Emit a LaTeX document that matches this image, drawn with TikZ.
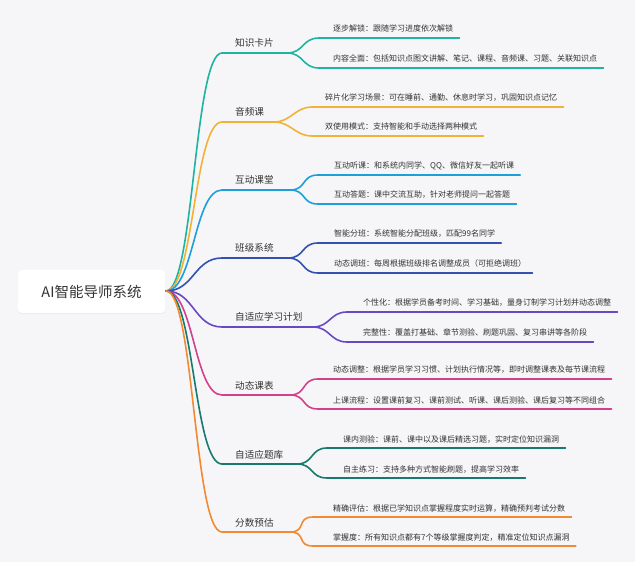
\documentclass[tikz,border=0pt]{standalone}
\usepackage{fontspec}
\setmainfont{Noto Sans CJK SC}
\usetikzlibrary{positioning,shadows}
\definecolor{bggray}{HTML}{F6F6F8}
\definecolor{txtgray}{HTML}{333333}
\definecolor{cteal}{HTML}{1DB4A0}
\definecolor{cyellow}{HTML}{F1B334}
\definecolor{cblue}{HTML}{1E9FDB}
\definecolor{cnavy}{HTML}{3451B2}
\definecolor{cpurple}{HTML}{6A48C3}
\definecolor{cmagenta}{HTML}{D1418C}
\definecolor{cdteal}{HTML}{18796F}
\definecolor{corange}{HTML}{F28A33}

\begin{document}
\begin{tikzpicture}[x=1pt,y=-1pt]
\tikzstyle{rootbox}=[rounded corners=4pt, fill=white, minimum width=147pt,
	minimum height=43pt, inner sep=0pt, text=txtgray,
	font=\fontsize{14.5}{16}\selectfont,
	drop shadow={shadow xshift=0pt, shadow yshift=-1pt, opacity=0.08},
]
\tikzstyle{topic}=[anchor=base west, inner sep=0pt, text=txtgray,
	font=\fontsize{9.6}{11}\selectfont]
\tikzstyle{leaf}=[anchor=base west, inner sep=0pt, text=txtgray,
	font=\fontsize{8}{10}\selectfont]
\tikzstyle{limb}=[to path={.. controls +(28,0) and +(-28,0) .. (\tikztotarget)}]
\tikzstyle{twig}=[to path={.. controls +(17,0) and +(-17,0) .. (\tikztotarget)}]
\tikzstyle{wire}=[line width=1.6pt, line cap=round]

\fill[bggray] (0,0) rectangle (635,562);
\useasboundingbox (0,0) rectangle (640,569);

\node[rootbox] (root) at (91.5,291.5) {AI智能导师系统};
\coordinate (o) at (166,291);

% 知识卡片
\node[topic] (t1) at (235,47) {知识卡片};
\node[leaf] (a1) at (333,32) {逐步解锁：跟随学习进度依次解锁};
\node[leaf] (b1) at (333,62) {内容全面：包括知识点图文讲解、笔记、课程、音频课、习题、关联知识点};
\coordinate (t1s) at (222,53);
\coordinate (t1e) at (287,53);
\path[wire, draw=cteal] (o) edge[limb] (t1s) (t1s) edge (t1e)
	(t1e) edge[twig] ([shift={(-14pt,-6pt)}]a1.base west)
	(t1e) edge[twig] ([shift={(-14pt,-6pt)}]b1.base west)
	([shift={(-14pt,-6pt)}]a1.base west) edge ([shift={(6pt,-6pt)}]a1.base east)
	([shift={(-14pt,-6pt)}]b1.base west) edge ([shift={(6pt,-6pt)}]b1.base east);

% 音频课
\node[topic] (t2) at (235,116) {音频课};
\node[leaf] (a2) at (325,101) {碎片化学习场景：可在睡前、通勤、休息时学习，巩固知识点记忆};
\node[leaf] (b2) at (325,130) {双使用模式：支持智能和手动选择两种模式};
\coordinate (t2s) at (222,122);
\coordinate (t2e) at (274,122);
\path[wire, draw=cyellow] (o) edge[limb] (t2s) (t2s) edge (t2e)
	(t2e) edge[twig] ([shift={(-13pt,-6pt)}]a2.base west)
	(t2e) edge[twig] ([shift={(-13pt,-6pt)}]b2.base west)
	([shift={(-13pt,-6pt)}]a2.base west) edge ([shift={(6pt,-6pt)}]a2.base east)
	([shift={(-13pt,-6pt)}]b2.base west) edge ([shift={(6pt,-6pt)}]b2.base east);

% 互动课堂
\node[topic] (t3) at (235,184) {互动课堂};
\node[leaf] (a3) at (334,169) {互动听课：和系统内同学、QQ、微信好友一起听课};
\node[leaf] (b3) at (334,198) {互动答题：课中交流互助，针对老师提问一起答题};
\coordinate (t3s) at (222,190);
\coordinate (t3e) at (290,190);
\path[wire, draw=cblue] (o) edge[limb] (t3s) (t3s) edge (t3e)
	(t3e) edge[twig] ([shift={(-16pt,-6pt)}]a3.base west)
	(t3e) edge[twig] ([shift={(-16pt,-6pt)}]b3.base west)
	([shift={(-16pt,-6pt)}]a3.base west) edge ([shift={(6pt,-6pt)}]a3.base east)
	([shift={(-16pt,-6pt)}]b3.base west) edge ([shift={(6pt,-6pt)}]b3.base east);

% 班级系统
\node[topic] (t4) at (235,252) {班级系统};
\node[leaf] (a4) at (334,237) {智能分班：系统智能分配班级，匹配99名同学};
\node[leaf] (b4) at (334,267) {动态调班：每周根据班级排名调整成员（可拒绝调班）};
\coordinate (t4s) at (222,258);
\coordinate (t4e) at (288,258);
\path[wire, draw=cnavy] (o) edge[limb] (t4s) (t4s) edge (t4e)
	(t4e) edge[twig] ([shift={(-16pt,-6pt)}]a4.base west)
	(t4e) edge[twig] ([shift={(-16pt,-6pt)}]b4.base west)
	([shift={(-16pt,-6pt)}]a4.base west) edge ([shift={(6pt,-6pt)}]a4.base east)
	([shift={(-16pt,-6pt)}]b4.base west) edge ([shift={(6pt,-6pt)}]b4.base east);

% 自适应学习计划
\node[topic] (t5) at (235,321) {自适应学习计划};
\node[leaf] (a5) at (363,306) {个性化：根据学员备考时间、学习基础，量身订制学习计划并动态调整};
\node[leaf] (b5) at (363,336) {完整性：覆盖打基础、章节测验、刷题巩固、复习串讲等各阶段};
\coordinate (t5s) at (222,327);
\coordinate (t5e) at (313,327);
\path[wire, draw=cpurple] (o) edge[limb] (t5s) (t5s) edge (t5e)
	(t5e) edge[twig] ([shift={(-16pt,-6pt)}]a5.base west)
	(t5e) edge[twig] ([shift={(-16pt,-6pt)}]b5.base west)
	([shift={(-16pt,-6pt)}]a5.base west) edge ([shift={(6pt,-6pt)}]a5.base east)
	([shift={(-16pt,-6pt)}]b5.base west) edge ([shift={(6pt,-6pt)}]b5.base east);

% 动态课表
\node[topic] (t6) at (235,389) {动态课表};
\node[leaf] (a6) at (333,373) {动态调整：根据学员学习习惯、计划执行情况等，即时调整课表及每节课流程};
\node[leaf] (b6) at (333,403) {上课流程：设置课前复习、课前测试、听课、课后测验、课后复习等不同组合};
\coordinate (t6s) at (222,395);
\coordinate (t6e) at (290,395);
\path[wire, draw=cmagenta] (o) edge[limb] (t6s) (t6s) edge (t6e)
	(t6e) edge[twig] ([shift={(-15pt,-6pt)}]a6.base west)
	(t6e) edge[twig] ([shift={(-15pt,-6pt)}]b6.base west)
	([shift={(-15pt,-6pt)}]a6.base west) edge ([shift={(6pt,-6pt)}]a6.base east)
	([shift={(-15pt,-6pt)}]b6.base west) edge ([shift={(6pt,-6pt)}]b6.base east);

% 自适应题库
\node[topic] (t7) at (235,458) {自适应题库};
\node[leaf] (a7) at (343,442) {课内测验：课前、课中以及课后精选习题，实时定位知识漏洞};
\node[leaf] (b7) at (343,472) {自主练习：支持多种方式智能刷题，提高学习效率};
\coordinate (t7s) at (222,464);
\coordinate (t7e) at (297,464);
\path[wire, draw=cdteal] (o) edge[limb] (t7s) (t7s) edge (t7e)
	(t7e) edge[twig] ([shift={(-16pt,-6pt)}]a7.base west)
	(t7e) edge[twig] ([shift={(-16pt,-6pt)}]b7.base west)
	([shift={(-16pt,-6pt)}]a7.base west) edge ([shift={(6pt,-6pt)}]a7.base east)
	([shift={(-16pt,-6pt)}]b7.base west) edge ([shift={(6pt,-6pt)}]b7.base east);

% 分数预估
\node[topic] (t8) at (235,526) {分数预估};
\node[leaf] (a8) at (333,511) {精确评估：根据已学知识点掌握程度实时运算，精确预判考试分数};
\node[leaf] (b8) at (333,540) {掌握度：所有知识点都有7个等级掌握度判定，精准定位知识点漏洞};
\coordinate (t8s) at (222,532);
\coordinate (t8e) at (290,532);
\path[wire, draw=corange] (o) edge[limb] (t8s) (t8s) edge (t8e)
	(t8e) edge[twig] ([shift={(-20pt,-6pt)}]a8.base west)
	(t8e) edge[twig] ([shift={(-20pt,-6pt)}]b8.base west)
	([shift={(-20pt,-6pt)}]a8.base west) edge ([shift={(6pt,-6pt)}]a8.base east)
	([shift={(-20pt,-6pt)}]b8.base west) edge ([shift={(6pt,-6pt)}]b8.base east);

\end{tikzpicture}
\end{document}
